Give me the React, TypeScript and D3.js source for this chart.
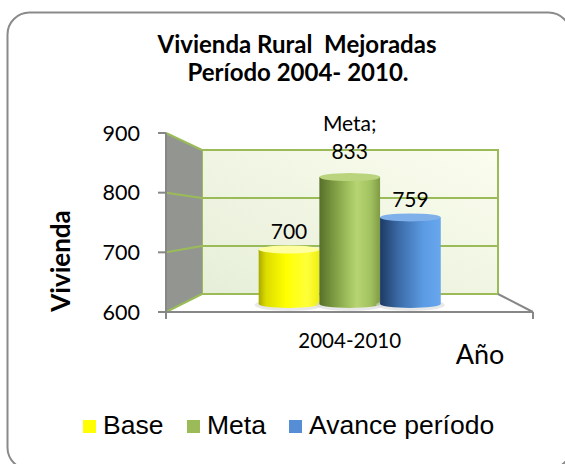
import * as d3 from 'd3';

const categories = ['2004-2010'];
const seriesNames = ['Base', 'Meta', 'Avance período'];
const seriesValues = [700, 833, 759];
const seriesColors = ['#ffff00', '#9bbb59', '#558ed5'];
const yTicks = [600, 700, 800, 900];

const W = 565;
const H = 464;

// 3D box: front plane and back wall
const front = { left: 166, right: 533, bottom: 312, top: 133 };
const back = { left: 202, right: 498, bottom: 294, top: 150 };
const barDepth = 0.45;
const lerp = (a: number, b: number, t: number) => a + (b - a) * t;

const yFront = d3.scaleLinear().domain([600, 900]).range([front.bottom, front.top]);
const yBack = d3.scaleLinear().domain([600, 900]).range([back.bottom, back.top]);
const yBar = d3
  .scaleLinear()
  .domain([600, 900])
  .range([lerp(front.bottom, back.bottom, barDepth), lerp(front.top, back.top, barDepth)]);

const xBand = d3
  .scaleBand()
  .domain(categories)
  .range([lerp(front.left, back.left, barDepth), lerp(front.right, back.right, barDepth)])
  .paddingInner(0)
  .paddingOuter(0.42);
const xSeries = d3.scaleBand().domain(seriesNames).range([0, xBand.bandwidth()]).padding(0);

const gradients = [
  [
    [0, '#a9a900'],
    [0.12, '#dcdc00'],
    [0.45, '#ffff00'],
    [0.8, '#ffff3a'],
    [1, '#eeee10'],
  ],
  [
    [0, '#57702a'],
    [0.3, '#86a548'],
    [0.62, '#b7d672'],
    [0.85, '#a1c05f'],
    [1, '#7f9b45'],
  ],
  [
    [0, '#1d3a63'],
    [0.3, '#3b6aa6'],
    [0.72, '#5c9ce4'],
    [1, '#68a7ee'],
  ],
];
const topColors = ['#ffffa0', '#b9d47c', '#7fb0ea'];

const GREEN = '#9bbb59';
const AXIS = '#878787';
const CAL = 'Lato, "Open Sans", sans-serif';

export default function App() {
  const cat = categories[0];
  const bw = xSeries.bandwidth();
  const ry = 4;
  const base = yBar(600);

  return (
    <svg width={W} height={H} style={{ position: 'absolute', left: 0, top: 0 }}>
      <defs>
        {gradients.map((g, i) => (
          <linearGradient key={i} id={`cyl${i}`} x1="0" x2="1" y1="0" y2="0">
            {g.map(([o, c], j) => (
              <stop key={j} offset={o as number} stopColor={c as string} />
            ))}
          </linearGradient>
        ))}
        <linearGradient id="wall" x1="0" y1="1" x2="1" y2="0">
          <stop offset="0" stopColor="#e6eed8" />
          <stop offset="1" stopColor="#fbfdee" />
        </linearGradient>
      </defs>

      <rect x={7.5} y={12.5} width={563} height={457} rx={22} fill="#fff" stroke="#8a8a8a" strokeWidth={2} />

      {/* title */}
      <text
        fontFamily={CAL}
        fontWeight="bold"
        fontSize={24}
        textAnchor="middle"
        fill="#000"
        style={{ whiteSpace: 'pre' }}
      >
        <tspan x={297} y={53}>Vivienda Rural  Mejoradas</tspan>
        <tspan x={298} y={81}>Período 2004- 2010.</tspan>
      </text>

      {/* floor */}
      <polygon
        points={`${front.left},${front.bottom} ${back.left},${back.bottom} ${back.right},${back.bottom} ${front.right},${front.bottom}`}
        fill="#fff"
      />
      {/* back wall */}
      <rect
        x={back.left}
        y={back.top}
        width={back.right - back.left}
        height={back.bottom - back.top}
        fill="url(#wall)"
        stroke={GREEN}
        strokeWidth={2}
      />
      {/* side wall */}
      <polygon
        points={`${front.left},${front.top} ${back.left},${back.top} ${back.left},${back.bottom} ${front.left},${front.bottom}`}
        fill="#939690"
      />
      {yTicks.map((v) => (
        <g key={v}>
          <line x1={front.left} y1={yFront(v)} x2={back.left} y2={yBack(v)} stroke={GREEN} strokeWidth={2} />
          <line x1={back.left} y1={yBack(v)} x2={back.right} y2={yBack(v)} stroke={GREEN} strokeWidth={2} />
        </g>
      ))}
      <line x1={back.right} y1={back.bottom} x2={front.right} y2={front.bottom} stroke={AXIS} strokeWidth={2} />

      {/* axes */}
      <line x1={front.left} y1={front.top} x2={front.left} y2={front.bottom + 7} stroke={AXIS} strokeWidth={2} />
      <line x1={front.left - 8} y1={front.bottom} x2={front.right} y2={front.bottom} stroke={AXIS} strokeWidth={2} />
      <line x1={front.right} y1={front.bottom} x2={front.right} y2={front.bottom + 7} stroke={AXIS} strokeWidth={2} />
      {yTicks.map((v) => (
        <g key={v}>
          <line x1={front.left - 8} y1={yFront(v)} x2={front.left} y2={yFront(v)} stroke={AXIS} strokeWidth={2} />
          <text x={140} y={yFront(v) + 7.5} textAnchor="end" fontFamily={CAL} fontSize={21.5} fill="#000">
            {v}
          </text>
        </g>
      ))}

      {/* cylinders */}
      {seriesNames.map((name, i) => {
        const x0 = (xBand(cat) as number) + (xSeries(name) as number);
        const rx = bw / 2;
        const cx = x0 + rx;
        const top = yBar(seriesValues[i]);
        const body = `M${x0},${top} L${x0},${base} A${rx},${ry} 0 0 0 ${x0 + bw},${base} L${x0 + bw},${top} Z`;
        return (
          <g key={name}>
            <ellipse cx={cx} cy={base + 1} rx={rx + 4} ry={ry + 2} fill="#d9d9d9" opacity={0.6} />
            <path d={body} fill={`url(#cyl${i})`} />
            <ellipse cx={cx} cy={top} rx={rx} ry={ry} fill={topColors[i]} />
          </g>
        );
      })}

      {/* data labels */}
      {seriesNames.map((name, i) => {
        const x0 = (xBand(cat) as number) + (xSeries(name) as number);
        const cx = x0 + bw / 2;
        const top = yBar(seriesValues[i]);
        const two = name === 'Meta';
        return (
          <text key={name} x={cx} textAnchor="middle" fontFamily={CAL} fontSize={21} fill="#000">
            {two && (
              <tspan x={cx} y={top - 46}>
                Meta;
              </tspan>
            )}
            <tspan x={cx} y={top - (two ? 18 : 10)}>
              {seriesValues[i]}
            </tspan>
          </text>
        );
      })}

      {/* category label */}
      <text x={(xBand(cat) as number) + xBand.bandwidth() / 2} y={348} textAnchor="middle" fontFamily={CAL} fontSize={20.5} fill="#000">
        {cat}
      </text>
      <text x={480} y={364} textAnchor="middle" fontFamily={CAL} fontSize={27} fill="#000">
        Año
      </text>
      <text
        transform="translate(70,261) rotate(-90)"
        textAnchor="middle"
        fontFamily={CAL}
        fontWeight="bold"
        fontSize={26}
        fill="#000"
      >
        Vivienda
      </text>

      {/* legend */}
      {(() => {
        const xs = [83, 187, 289];
        return seriesNames.map((name, i) => (
          <g key={name}>
            <rect x={xs[i]} y={420} width={13} height={13} fill={seriesColors[i]} />
            <text x={xs[i] + 20} y={434} fontFamily='"Liberation Sans", Arial, sans-serif' fontSize={26.5} fill="#000">
              {name}
            </text>
          </g>
        ));
      })()}
    </svg>
  );
}
